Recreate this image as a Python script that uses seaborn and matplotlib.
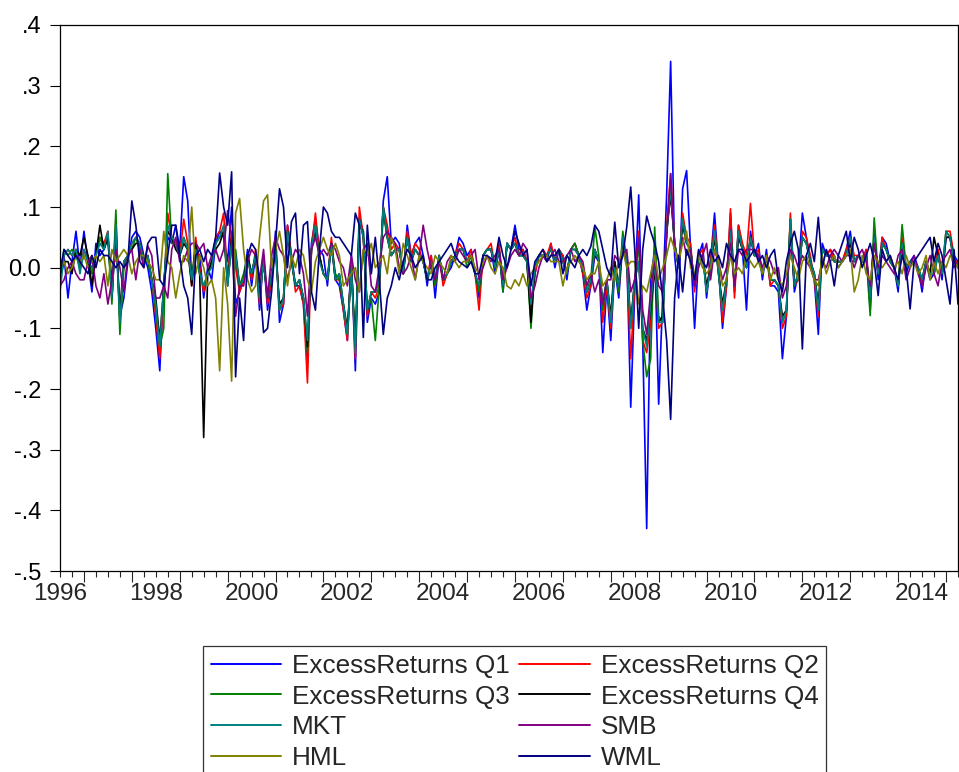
import numpy as np
import pandas as pd
import matplotlib
matplotlib.use("Agg")
import matplotlib.pyplot as plt
import seaborn as sns

# monthly observations 1996M07 .. 2015M04
start_year = 1996.5
n_obs = 226

q1 = [
    .00, .02, -.05, .01, .06, .00,
    .06, .01, -.04, .04, .02, .03, .05, -.02, .05, -.08, -.05, .01,
    .05, .06, .05, .02, .00, -.04, -.10, -.17, -.03, .05, .04, .07,
    .03, .15, .11, -.02, .03, .02, -.05, .00, -.02, .04, .06, .05,
    .01, .10, -.06, -.04, -.02, .03, -.03, .02, -.07, .02, -.07, -.02,
    .06, -.09, -.06, .07, .02, -.03, -.03, -.06, -.16, .04, .08, .03,
    .02, -.03, .04, -.02, -.03, -.07, -.12, .02, -.17, .08, .06, -.09,
    -.05, -.06, -.04, .11, .15, .04, .05, .04, -.01, .07, .02, .04,
    .05, .02, -.03, .02, -.05, .02, -.02, -.01, .00, .02, .05, .04,
    .02, .03, -.01, -.05, .02, .03, .03, -.01, .03, -.04, .04, .03,
    .07, .03, .03, .01, -.07, -.01, .02, .02, .01, .04, .00, .03,
    .02, -.02, .03, .04, .02, -.01, -.07, -.03, .02, .01, -.14, -.03,
    -.12, .00, -.05, .04, .02, -.23, -.04, .12, -.12, -.43, -.02, .03,
    -.225, -.05, .12, .34, .02, -.05, .13, .16, .03, -.10, .02, .04,
    -.05, .01, .09, .00, -.10, -.03, .09, -.04, .07, .03, -.07, .06,
    .02, .04, -.02, .03, -.03, -.03, -.04, -.15, -.08, .08, -.04, -.01,
    .09, .05, .01, -.02, -.11, .04, .02, .03, .02, .00, .01, .03,
    .06, .01, .02, .01, .03, -.07, .06, -.02, .05, .04, .01, .00,
    -.04, .05, -.01, .01, .02, .00, -.04, .01, -.02, -.01, .03, -.02,
    .05, .05, .02, .01,
]

q2 = [
    -.02, .02, .03, .02, .03, .00,
    .03, .01, .00, .02, .05, .04, .06, -.05, .08, -.09, .01, .02,
    .04, .05, .04, .01, .02, -.02, -.08, -.15, -.04, .09, .05, .04,
    .02, .08, .04, -.03, .05, .00, -.04, -.01, .01, .05, .06, .09,
    -.02, .06, .00, -.04, -.02, .02, -.02, .03, -.06, .02, -.06, -.02,
    .04, -.07, -.06, .07, .02, -.04, -.03, -.06, -.19, .03, .09, .02,
    -.01, -.02, .05, -.02, -.02, -.07, -.12, .01, -.15, .10, .05, -.08,
    -.04, -.05, -.03, .10, .07, .03, .04, .03, -.01, .06, .02, .04,
    .03, .01, -.02, .02, -.03, .02, -.03, -.01, .01, .02, .04, .03,
    .01, .03, -.01, -.07, .02, .03, .04, .00, .04, -.03, .04, .03,
    .05, .02, .03, .01, -.07, -.01, .02, .03, .02, .04, .01, .03,
    .02, -.01, .03, .04, .02, -.01, -.05, -.03, .03, .01, -.09, -.03,
    -.10, .01, -.04, .05, .01, -.15, -.03, .06, -.12, -.14, -.09, .01,
    -.10, -.09, .07, .155, .04, .00, .09, .05, .04, -.04, .02, .03,
    -.04, .01, .07, .00, -.09, -.03, .097, -.05, .07, .04, .02, .106,
    .02, .03, -.01, .02, -.03, -.02, -.03, -.10, -.08, .09, -.03, -.02,
    .06, .05, .02, -.02, -.08, .03, .02, .03, .01, .01, .01, .03,
    .05, .02, .02, .01, .03, -.06, .05, -.01, .05, .03, .01, .00,
    -.03, .05, .00, .01, .01, .00, -.03, .01, -.01, -.01, .03, -.01,
    .06, .06, .02, .00,
]

q3 = [
    -.01, .03, .02, .03, .02, .00,
    .02, .02, -.01, .02, .05, .03, .05, -.06, .095, -.11, .00, .02,
    .03, .05, .03, .01, .01, -.02, -.07, -.13, -.10, .155, .04, .04,
    .02, .05, .03, -.02, .04, -.01, -.03, -.01, .01, .04, .05, .06,
    -.02, .03, .03, -.03, -.01, .02, -.01, .02, -.05, .01, -.05, -.01,
    .04, -.07, -.05, .06, .01, -.03, -.02, -.05, -.14, .03, .07, .02,
    -.01, -.02, .04, -.01, -.02, -.06, -.11, .00, -.12, .07, .06, -.07,
    -.05, -.12, -.03, .09, .05, .02, .03, .03, -.01, .05, .01, .03,
    .02, .01, -.02, .01, -.03, .02, -.02, -.01, .01, .02, .03, .03,
    .00, .02, -.01, -.04, .02, .03, .03, .00, .03, -.04, .04, .03,
    .04, .02, .02, .01, -.10, .00, .02, .02, .02, .03, .01, .03,
    .01, -.01, .03, .04, .02, .00, -.04, -.02, .067, .02, -.07, -.02,
    -.09, .00, -.04, .06, .01, -.10, -.02, .04, -.12, -.18, -.15, .067,
    -.08, -.09, .06, .13, .04, .00, .08, .04, .03, -.03, .02, .02,
    -.04, .00, .06, -.01, -.07, -.02, .06, -.03, .06, .03, .00, .05,
    .02, .02, -.01, .02, -.02, -.02, -.03, -.09, -.07, .08, -.03, -.01,
    .05, .04, .01, -.01, -.07, .03, .02, .02, .01, .01, .01, .02,
    .05, .01, .02, .01, .02, -.079, .082, -.01, .04, .03, .01, .00,
    -.03, .071, .00, .01, .01, .00, -.02, .01, -.01, -.01, .02, -.01,
    .06, .05, .01, .00,
]

q4 = [
    -.02, .01, .01, -.01, .03, .02,
    .05, .02, -.03, .02, .07, .03, .05, -.05, .06, -.07, .01, .02,
    .03, .04, .04, .01, .02, -.02, -.05, -.12, -.03, .06, .05, .03,
    .02, .04, .03, -.03, .04, -.01, -.28, -.01, .01, .03, .04, .06,
    -.03, .05, .02, -.03, -.02, .02, -.01, .02, -.04, .01, -.05, -.01,
    .03, -.06, -.05, .06, .01, -.03, -.02, -.05, -.13, .03, .06, .02,
    -.01, -.02, .04, -.02, -.01, -.06, -.10, .00, -.13, .08, .05, -.07,
    -.04, -.04, -.02, .10, .05, .02, .03, .03, -.01, .05, .01, .03,
    .02, .01, -.02, .01, -.02, .02, -.02, -.01, .01, .02, .03, .03,
    .01, .02, -.01, -.03, .02, .03, .03, .00, .03, -.03, .04, .03,
    .04, .02, .02, .01, -.09, .00, .02, .02, .02, .03, .01, .03,
    .01, -.01, .03, .03, .02, .00, -.04, -.02, .03, .01, -.06, -.02,
    -.08, .01, -.03, .04, .01, -.09, -.02, .01, -.10, -.12, -.07, .00,
    -.09, -.08, .06, .12, .04, .00, .07, .04, .03, -.03, .02, .02,
    -.03, .00, .05, -.01, -.06, -.02, .06, -.03, .05, .03, .00, .05,
    .02, .02, -.01, .02, -.02, -.02, -.03, -.08, -.07, .07, -.03, -.01,
    .05, .04, .01, -.01, -.06, .03, .02, .02, .01, .01, .01, .02,
    .04, .01, .02, .01, .02, -.05, .05, -.01, .04, .03, .01, .00,
    -.03, .04, .00, .01, .01, .00, -.02, .01, -.01, .05, .02, -.01,
    .05, .05, .01, .00,
]

mkt = [
    -.04, .02, .03, .02, .03, -.01,
    .03, .01, .00, .02, .04, .03, .06, -.05, .07, -.09, .01, .02,
    .04, .05, .04, .01, .02, -.02, -.06, -.13, -.03, .07, .05, .04,
    .02, .05, .03, -.02, .03, -.01, -.03, -.01, .00, .04, .05, .07,
    -.03, .04, .02, -.03, -.02, .01, -.01, .02, -.05, .01, -.05, -.01,
    .03, -.07, -.05, .06, .01, -.03, -.02, -.05, -.12, .03, .07, .01,
    -.01, -.02, .04, -.02, -.01, -.06, -.11, .00, -.14, .08, .05, -.07,
    -.04, -.04, -.02, .10, .05, .02, .03, .03, -.01, .05, .01, .03,
    .02, .01, -.02, .01, -.02, .02, -.02, -.01, .01, .02, .03, .03,
    .01, .02, -.01, -.03, .02, .03, .03, .00, .03, -.03, .04, .03,
    .04, .02, .02, .01, -.06, .00, .02, .02, .02, .03, .01, .03,
    .01, -.01, .03, .03, .02, .00, -.04, -.02, .03, .01, -.06, -.02,
    -.09, .00, -.03, .05, .01, -.10, -.02, .01, -.10, -.13, -.06, .01,
    -.09, -.09, .06, .13, .04, .00, .08, .04, .03, -.03, .02, .02,
    -.04, .00, .06, -.01, -.07, -.02, .06, -.03, .06, .03, .00, .05,
    .02, .02, -.01, .02, -.02, -.02, -.03, -.09, -.07, .08, -.03, -.01,
    .05, .04, .01, -.01, -.07, .03, .02, .02, .01, .01, .01, .02,
    .05, .01, .02, .01, .02, -.05, .05, -.01, .04, .03, .01, .00,
    -.03, .04, .00, .01, .01, .00, -.02, .01, -.01, -.01, .02, -.01,
    .06, .05, .01, .00,
]

smb = [
    -.03, -.02, .00, .01, -.01, -.02,
    -.02, .01, .02, -.03, -.05, -.01, -.06, -.02, .03, .00, -.04, .02,
    .03, -.02, .03, .00, .036, .02, -.05, -.05, -.03, -.05, .03, .05,
    .01, .01, .03, .04, .04, .03, .04, .00, .02, .03, .01, .03,
    .094, .05, -.08, -.03, -.03, .01, .03, .02, -.02, .03, -.05, .02,
    .05, .03, .02, -.02, .01, .03, .02, -.01, -.08, .03, .05, .02,
    .03, .02, .04, .03, .01, .00, -.03, .02, -.02, -.04, .03, .04,
    -.03, -.04, .00, .05, .06, .05, .04, .00, -.01, .00, .02, -.02,
    .02, .07, .03, .00, -.02, .01, -.02, .01, .02, .01, .03, .02,
    .01, .02, .03, -.02, .00, .02, .01, .02, .03, -.02, .00, .02,
    .03, .02, .04, .03, -.05, -.03, .00, .02, .01, .02, .03, .01,
    .01, .02, .03, .01, .02, .01, -.03, -.01, -.04, -.02, -.06, -.02,
    -.02, .02, .01, .02, .03, -.04, -.02, .05, -.07, -.11, -.04, .01,
    -.03, -.04, .05, .155, .03, .01, .05, .02, .03, -.03, .00, .02,
    .04, -.02, .03, .01, -.02, .00, .04, -.03, .03, .02, .03, .03,
    .03, .02, .00, .02, .01, -.01, .00, -.05, -.03, .03, .02, .00,
    .02, .01, .00, -.02, -.02, .01, .00, .02, .03, .02, .01, .02,
    .02, .00, .02, .03, .01, -.03, .04, .00, .02, .01, .00, -.01,
    .02, .03, -.02, .00, .02, -.01, -.03, .00, .02, -.01, -.03, .01,
    .02, .03, .00, .01,
]

hml = [
    .00, .01, -.01, .00, .02, .01,
    .02, .00, .01, .02, .01, .02, -.03, .03, .01, .02, .03, .02,
    -.01, .01, .02, .02, .01, .00, -.02, -.02, .06, .01, .00, -.05,
    -.01, .02, .01, .10, -.01, .02, .00, -.03, -.02, -.05, -.17, .00,
    -.06, -.187, .09, .114, .03, -.02, -.04, -.03, .05, .11, .12, .00,
    .03, .06, .02, -.03, .02, .00, .03, .02, -.02, -.04, .01, .03,
    .05, .03, .02, .04, .02, -.03, -.02, -.01, .00, -.04, .03, .02,
    .04, .00, .01, .02, -.01, .05, .03, -.01, .04, .02, .00, -.02,
    .02, .01, .00, -.01, .02, .01, .00, -.01, .02, .01, .00, .01,
    .01, .02, .00, -.01, .01, .02, .00, -.01, .01, .00, -.03, -.035,
    -.02, -.03, -.01, -.03, -.01, .00, .01, .02, .02, .01, .01, .01,
    -.03, .00, .01, .02, .01, .00, -.02, -.01, -.01, .01, -.03, -.02,
    .00, -.02, .01, .03, .00, .01, .01, -.06, -.03, -.04, -.01, .02,
    -.02, .00, .02, .05, .03, .01, .04, .06, .00, -.01, .02, .00,
    -.01, .00, .03, .01, -.03, -.02, .02, -.01, .00, -.01, .02, .01,
    .00, .01, -.01, .02, -.02, .00, -.02, -.03, -.01, .02, .00, -.02,
    .01, .02, .00, -.02, -.03, .02, -.01, .01, .02, .00, .01, .02,
    .03, -.04, -.02, .02, -.01, -.02, .02, .01, .00, .01, .02, .00,
    .01, -.01, .02, .00, .01, -.01, .00, .02, -.02, .01, -.01, .01,
    .00, .02, .01, .00,
]

wml = [
    -.01, .03, .02, .01, .02, .01,
    .00, -.01, .02, .00, .03, .02, .02, .01, .00, .01, .00, .01,
    .11, .07, .01, .00, .04, .05, .05, -.02, -.03, .02, .07, .07,
    .02, -.03, -.05, -.11, .02, .03, .01, .03, .02, .05, .156, .10,
    .07, .158, -.18, -.05, -.12, .02, .04, .03, -.02, -.107, -.10, -.04,
    .04, .13, .10, .00, .076, .09, -.01, .07, .076, -.04, -.07, .03,
    .10, .09, .06, .05, .05, .04, .03, .02, .09, .07, -.115, .07,
    -.01, .05, -.02, -.11, -.05, -.03, .00, -.02, .01, .03, .02, .00,
    .01, .02, -.02, -.02, .00, .01, .02, .03, .04, .02, .01, .005,
    .00, .01, -.01, -.01, .02, .02, .015, .01, .05, .02, .00, .03,
    .06, .04, .02, .03, -.03, .01, .02, .03, .01, .02, .02, .03,
    -.01, .02, .01, .00, .02, .03, .02, .035, .07, .06, .03, .00,
    -.015, .075, .00, .02, .067, .133, .03, -.10, .03, .085, .06, .04,
    .01, -.05, -.12, -.25, -.05, .02, -.04, .03, .01, -.02, .03, .01,
    .00, .03, .01, .02, .00, .04, .02, .01, .03, .03, .01, .02,
    .03, .01, .02, .00, .02, .03, -.02, -.04, .01, .04, .06, .03,
    -.134, .02, .04, .01, .083, .00, .03, .01, -.03, .02, .04, .06,
    .01, .05, .03, .00, .02, .04, .01, -.046, .03, .01, .02, .00,
    -.02, .02, .00, -.068, .01, .02, .03, .04, .05, .01, .04, .02,
    -.02, -.06, .03, -.06,
]

series_names = ["ExcessReturns Q1", "ExcessReturns Q2", "ExcessReturns Q3",
                "ExcessReturns Q4", "MKT", "SMB", "HML", "WML"]
series_colors = ["#0000FF", "#FF0000", "#008000", "#000000",
                 "#008080", "#800080", "#808000", "#000080"]
y_ticks = [-.5, -.4, -.3, -.2, -.1, 0.0, .1, .2, .3, .4]
y_tick_labels = ["-.5", "-.4", "-.3", "-.2", "-.1", "0.0", ".1", ".2", ".3", ".4"]
x_label_years = ["1996", "1998", "2000", "2002", "2004", "2006",
                 "2008", "2010", "2012", "2014"]

all_series = [q1, q2, q3, q4, mkt, smb, hml, wml]
for nm, s in zip(series_names, all_series):
    if len(s) != n_obs:
        raise SystemExit(f"{nm} has {len(s)} values")

t = start_year + np.arange(n_obs) / 12.0
wide = pd.DataFrame({nm: s for nm, s in zip(series_names, all_series)})
wide["t"] = t
long = wide.melt(id_vars="t", var_name="series", value_name="value")

sns.set_style("white")
plt.rcParams["font.family"] = ["Liberation Sans", "DejaVu Sans"]

W, H = 959, 772
fig = plt.figure(figsize=(W / 100, H / 100), dpi=100)
ax = fig.add_axes([60 / W, 1 - 571 / H, 898 / W, 546 / H])

sns.lineplot(data=long, x="t", y="value", hue="series", hue_order=series_names,
             palette=dict(zip(series_names, series_colors)), estimator=None,
             linewidth=1.2, legend=False, ax=ax)

ax.set_xlim(t[0], t[-1])
ax.set_ylim(-.5, .4)
ax.set_xlabel("")
ax.set_ylabel("")
ax.set_yticks(y_ticks)
ax.set_yticklabels(y_tick_labels)
ax.tick_params(axis="y", direction="out", length=7.5, width=0.8, labelsize=17,
               pad=6, left=True, colors="black")

years = np.arange(1997, 2016)
quarters = np.arange(start_year, t[-1] + 0.01, 0.25)
ax.set_xticks(years)
ax.set_xticks(quarters, minor=True)
ax.tick_params(axis="x", which="major", direction="out", length=8, width=0.8,
               labelbottom=False, bottom=True)
ax.tick_params(axis="x", which="minor", direction="out", length=4, width=0.8,
               bottom=True)

sec = ax.secondary_xaxis("bottom")
sec.set_xticks([int(y) + 0.5 for y in x_label_years], labels=x_label_years)
sec.tick_params(length=0, labelsize=17.5, pad=9)
sec.spines["bottom"].set_visible(False)

for sp in ax.spines.values():
    sp.set_visible(True)
    sp.set_color("black")
    sp.set_linewidth(0.9)

lines = ax.get_lines()[:len(series_names)]
order = [0, 2, 4, 6, 1, 3, 5, 7]
leg = fig.legend([lines[i] for i in order], [series_names[i] for i in order],
                 ncol=2, loc="upper left",
                 bbox_to_anchor=(203 / W, 1 - 646 / H),
                 bbox_transform=fig.transFigure,
                 frameon=True, fancybox=False, edgecolor="black",
                 fontsize=18.8, handlelength=2.7, handletextpad=0.42,
                 columnspacing=0.35, labelspacing=0.26, borderpad=0.3,
                 borderaxespad=0)
leg.get_frame().set_linewidth(0.9)
for lh in leg.get_lines():
    lh.set_linewidth(1.4)

fig.savefig("out.png", dpi=100)
